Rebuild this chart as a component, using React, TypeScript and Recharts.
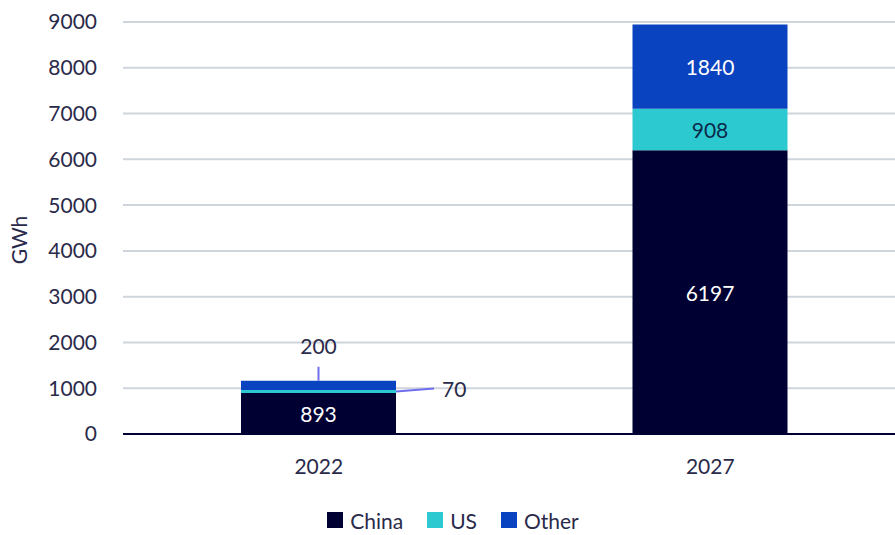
import React from 'react';
import { BarChart, Bar, XAxis, YAxis, CartesianGrid, Legend, LabelList } from 'recharts';

const years = ['2022', '2027'];
const china = [893, 6197];
const us = [70, 908];
const other = [200, 1840];
const yTicks = [0, 1000, 2000, 3000, 4000, 5000, 6000, 7000, 8000, 9000];

const COLORS = { China: '#000033', US: '#2ccad0', Other: '#0a43c0' };
const TEXT = '#2a2a4a';
const LEADER = '#6f6ff0';
const FONT = 'Lato, sans-serif';

const data = years.map((year, i) => ({ year, China: china[i], US: us[i], Other: other[i] }));

const InsideLabel = (fill: string) => (props: any) => {
  const { x, y, width, height, value } = props;
  return (
    <text x={x + width / 2} y={y + height / 2} fill={fill} fontSize={21} fontFamily={FONT}
      textAnchor="middle" dominantBaseline="central">
      {value}
    </text>
  );
};

const UsLabel = (props: any) => {
  const { x, y, width, height, value, index } = props;
  if (index === 0) {
    const my = y + height / 2;
    const ex = x + width;
    return (
      <g>
        <line x1={ex} y1={my} x2={ex + 38} y2={my - 3} stroke={LEADER} strokeWidth={2} />
        <text x={ex + 46} y={my - 3} fill={TEXT} fontSize={21} fontFamily={FONT} dominantBaseline="central">
          {value}
        </text>
      </g>
    );
  }
  return InsideLabel('#0a2a4a')(props);
};

const OtherLabel = (props: any) => {
  const { x, y, width, value, index } = props;
  if (index === 0) {
    const cx = x + width / 2;
    return (
      <g>
        <line x1={cx} y1={y} x2={cx} y2={y - 14} stroke={LEADER} strokeWidth={2} />
        <text x={cx} y={y - 35} fill={TEXT} fontSize={21} fontFamily={FONT} textAnchor="middle" dominantBaseline="central">
          {value}
        </text>
      </g>
    );
  }
  return InsideLabel('#ffffff')(props);
};

const LegendContent = () => (
  <div style={{ display: 'flex', justifyContent: 'center', alignItems: 'center', height: 30, paddingTop: 14, fontFamily: FONT, fontSize: 21, color: TEXT }}>
    {(['China', 'US', 'Other'] as const).map((k) => (
      <div key={k} style={{ display: 'flex', alignItems: 'center', margin: '0 12px' }}>
        <span style={{ width: 16, height: 16, background: COLORS[k], marginRight: 7, display: 'inline-block' }} />
        <span>{k}</span>
      </div>
    ))}
  </div>
);

export default function App() {
  return (
    <div style={{ position: 'absolute', left: 0, top: 0, width: 895, height: 535, overflow: 'hidden', background: '#fff' }}>
      <BarChart width={906} height={535} data={data} margin={{ top: 22, right: 0, bottom: 0, left: 0 }}>
        <CartesianGrid vertical={false} stroke="#cfd5dc" strokeWidth={2} />
        <XAxis dataKey="year" axisLine={{ stroke: '#000033', strokeWidth: 2 }} tickLine={false} height={57}
          tickMargin={19} tick={{ fontSize: 21, fill: TEXT, fontFamily: FONT }} />
        <YAxis domain={[0, 9000]} ticks={yTicks} axisLine={false} tickLine={false} width={123}
          tickMargin={20} tick={{ fontSize: 21, fill: TEXT, fontFamily: FONT }}
          label={{ value: 'GWh', angle: -90, position: 'insideLeft', offset: 20, dx: 0, dy: 12, fill: TEXT, fontSize: 21, fontFamily: FONT, style: { textAnchor: 'middle' } }} />
        <Legend verticalAlign="bottom" content={<LegendContent />} wrapperStyle={{ height: 44 }} />
        <Bar dataKey="China" stackId="a" fill={COLORS.China} barSize={155} isAnimationActive={false}>
          <LabelList dataKey="China" content={InsideLabel('#ffffff')} />
        </Bar>
        <Bar dataKey="US" stackId="a" fill={COLORS.US} barSize={155} isAnimationActive={false}>
          <LabelList dataKey="US" content={UsLabel} />
        </Bar>
        <Bar dataKey="Other" stackId="a" fill={COLORS.Other} barSize={155} isAnimationActive={false}>
          <LabelList dataKey="Other" content={OtherLabel} />
        </Bar>
      </BarChart>
    </div>
  );
}
